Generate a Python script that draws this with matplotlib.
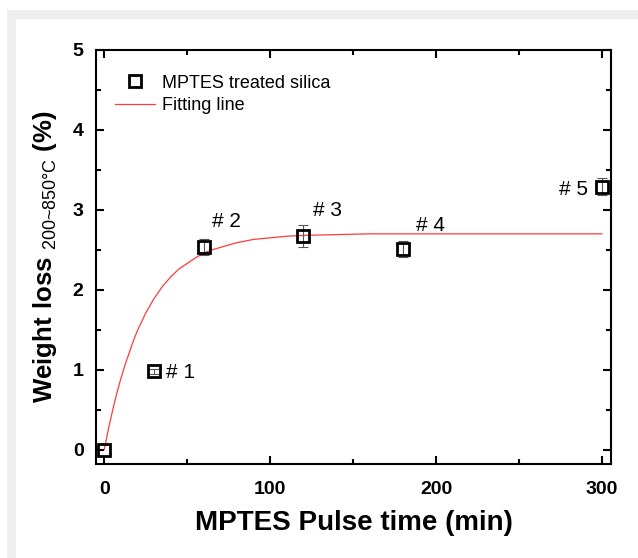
import matplotlib
matplotlib.use("Agg")
import matplotlib.pyplot as plt
from matplotlib.patches import Rectangle

# data
pulse_time = [0, 30, 60, 120, 180, 300]
weight_loss = [0.0, 0.98, 2.53, 2.67, 2.51, 3.29]
loss_err = [0.0, 0.03, 0.10, 0.14, 0.10, 0.11]
point_labels = ["# 1", "# 2", "# 3", "# 4", "# 5"]

# fitting line, points
fit_t = [0, 2.5, 5, 7.5, 10, 12.5, 15, 17.5, 20, 22.5, 25, 27.5, 30, 35, 40, 45,
         50, 55, 60, 65, 70, 80, 90, 100, 110, 120, 140, 160, 200, 250, 300]
fit_y = [0.0, 0.26, 0.49, 0.70, 0.89, 1.06, 1.21, 1.36, 1.49, 1.60, 1.71, 1.80,
         1.89, 2.04, 2.16, 2.26, 2.33, 2.40, 2.46, 2.50, 2.53, 2.59, 2.63, 2.65,
         2.67, 2.68, 2.69, 2.70, 2.70, 2.70, 2.70]

plt.rcParams['font.family'] = ['Liberation Sans', 'DejaVu Sans']
plt.rcParams['mathtext.fontset'] = 'custom'
plt.rcParams['mathtext.rm'] = 'Liberation Sans'
plt.rcParams['mathtext.bf'] = 'Liberation Sans:bold'

fig = plt.figure(figsize=(6.38, 5.58), dpi=100)
# grey frame of the screenshot
fig.patches.append(Rectangle((7/638, 0), 1, 1 - 10/558, transform=fig.transFigure,
                             facecolor='#efefef', edgecolor='none', zorder=-3))
fig.patches.append(Rectangle((16/638, 0), 1, 1 - 19/558, transform=fig.transFigure,
                             facecolor='white', edgecolor='none', zorder=-2))

ax = fig.add_axes([96/638, 1 - 464/558, 515/638, 414/558])
ax.set_facecolor('none')

ax.plot(fit_t, fit_y, color='#ff3b3b', lw=0.9, label='Fitting line', zorder=2)
ax.errorbar(pulse_time[1:], weight_loss[1:], yerr=loss_err[1:], fmt='none',
            ecolor='#555555', elinewidth=0.8, capsize=3.5, capthick=0.8, zorder=3)
ax.plot(pulse_time, weight_loss, 's', ms=8, mfc='none', mec='black', mew=2,
        label='MPTES treated silica', zorder=4)

label_pos = [(37, 0.97), (65, 2.86), (126, 2.99), (188, 2.8), (274, 3.26)]
for txt, (x, y) in zip(point_labels, label_pos):
    ax.text(x, y, txt, fontsize=15, va='center', ha='left')

ax.set_xlim(-5, 305.5)
ax.set_ylim(-0.18, 5)
ax.set_xticks([0, 100, 200, 300])
ax.set_xticks([50, 150, 250], minor=True)
ax.set_yticks([0, 1, 2, 3, 4, 5])
ax.set_yticks([0.5, 1.5, 2.5, 3.5, 4.5], minor=True)
ax.tick_params(which='both', direction='in', top=True, right=True, width=1.5)
ax.tick_params(which='major', length=6, labelsize=14)
ax.tick_params(axis='x', which='major', pad=12)
ax.tick_params(axis='y', which='major', pad=9)
ax.tick_params(which='minor', length=3.5)
for lab in ax.get_xticklabels() + ax.get_yticklabels():
    lab.set_fontweight('bold')
for s in ax.spines.values():
    s.set_linewidth(1.5)

ax.set_xlabel('MPTES Pulse time (min)', fontsize=20, fontweight='bold', labelpad=9)
ax.set_ylabel(r'$\mathbf{Weight\ loss}$ $_{\text{200~850°C}}$ $\mathbf{(\%)}$',
              fontsize=18.5, labelpad=10)

handles, labels = ax.get_legend_handles_labels()
ax.legend(handles[::-1], labels[::-1], loc='upper left', frameon=False, fontsize=13,
          bbox_to_anchor=(0.005, 0.98), handlelength=2.2, handletextpad=0.4,
          labelspacing=0.3)

fig.savefig('out.png', dpi=100)
